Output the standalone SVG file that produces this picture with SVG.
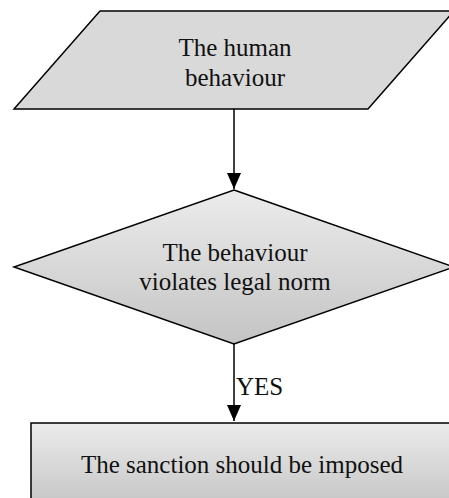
<svg xmlns="http://www.w3.org/2000/svg" width="449" height="498" viewBox="0 0 449 498">
<defs>
<linearGradient id="g1" x1="0" y1="0" x2="0" y2="1">
<stop offset="0" stop-color="#d9d9d9"/><stop offset="1" stop-color="#d9d9d9"/>
</linearGradient>
<linearGradient id="g2" x1="0" y1="0" x2="0" y2="1">
<stop offset="0" stop-color="#ececec"/><stop offset="1" stop-color="#c4c4c4"/>
</linearGradient>
<linearGradient id="g3" x1="0" y1="0" x2="0" y2="1">
<stop offset="0" stop-color="#ebebeb"/><stop offset="1" stop-color="#c2c2c2"/>
</linearGradient>
<marker id="arr" viewBox="0 0 10 12" refX="10" refY="6" markerWidth="10" markerHeight="12" markerUnits="userSpaceOnUse" orient="auto">
<path d="M0,0 L10,6 L0,12 z" fill="#000"/>
</marker>
<marker id="arr2" viewBox="0 0 16 14" refX="16" refY="7" markerWidth="16" markerHeight="14" markerUnits="userSpaceOnUse" orient="auto">
<path d="M0,0 L16,7 L0,14 z" fill="#000"/>
</marker>
</defs>
<style>
.shape{stroke:#000;stroke-width:1.5}
.t{font-family:"Liberation Serif","Times New Roman",serif;font-size:25px;fill:#111;text-anchor:middle}
.c{stroke:#000;stroke-width:1.5;fill:none}
</style>
<g id="connectors">
<line class="c" x1="234" y1="109" x2="234" y2="189" marker-end="url(#arr2)"/>
<line class="c" x1="234" y1="344" x2="234" y2="421" marker-end="url(#arr2)"/>
<text class="t" x="236" y="395" style="text-anchor:start">YES</text>
</g>
<g id="input">
<polygon class="shape" points="100,11 454,11 368,109 14,109" fill="url(#g1)"/>
<text class="t" x="235" y="56">The human</text>
<text class="t" x="235" y="86">behaviour</text>
</g>
<g id="decision">
<polygon class="shape" points="234,190 454,267 234,344 14,267" fill="url(#g2)"/>
<text class="t" x="235" y="261">The behaviour</text>
<text class="t" x="235" y="290">violates legal norm</text>
</g>
<g id="sanction">
<rect class="shape" x="31" y="423" width="425" height="90" fill="url(#g3)"/>
<text class="t" x="242" y="473">The sanction should be imposed</text>
</g>
</svg>
